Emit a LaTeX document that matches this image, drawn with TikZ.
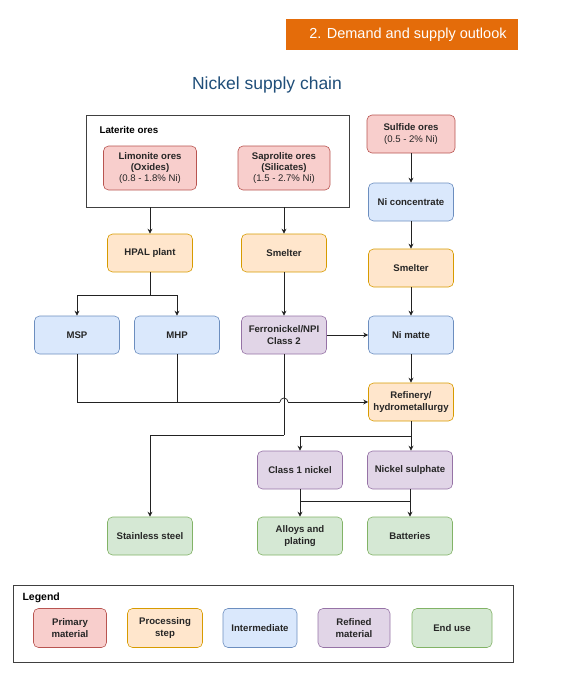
\documentclass[tikz,border=0pt]{standalone}
\usepackage{fontspec}
\setmainfont{Liberation Sans}
\usetikzlibrary{arrows.meta}
\definecolor{redF}{HTML}{F8CECC}\definecolor{redD}{HTML}{B85450}
\definecolor{orF}{HTML}{FFE6CC}\definecolor{orD}{HTML}{D79B00}
\definecolor{blF}{HTML}{DAE8FC}\definecolor{blD}{HTML}{6C8EBF}
\definecolor{puF}{HTML}{E1D5E7}\definecolor{puD}{HTML}{9673A6}
\definecolor{grF}{HTML}{D5E8D4}\definecolor{grD}{HTML}{82B366}
\definecolor{banner}{HTML}{E46C0A}
\definecolor{titleblue}{HTML}{1F4E79}
\definecolor{ln}{HTML}{222222}
\begin{document}
\begin{tikzpicture}[x=1pt,y=-1pt,
  box/.style={draw, rounded corners=5pt, minimum width=85pt, minimum height=38pt, align=center,
    font=\bfseries\fontsize{9.6}{11.2}\selectfont, line width=0.6pt, inner sep=1pt, text=black!85},
  prim/.style={box, fill=redF, draw=redD},
  proc/.style={box, fill=orF, draw=orD},
  inter/.style={box, fill=blF, draw=blD},
  refd/.style={box, fill=puF, draw=puD},
  enduse/.style={box, fill=grF, draw=grD},
  arr/.style={draw=ln, line width=0.7pt, -{Stealth[length=5pt,width=5pt]}},
  ln/.style={draw=ln, line width=0.7pt},
  frame/.style={draw=black!75, line width=0.7pt}
]
\useasboundingbox (0,0) rectangle (568,677);
% banner and title
\fill[banner] (286,19) rectangle (518,50);
\node[text=white, font=\fontsize{14.5}{16}\selectfont] (bt) at (408,35) {2. Demand and supply outlook};
\node[text=titleblue, font=\fontsize{17.5}{20}\selectfont] (title) at (267,85) {Nickel supply chain};
% laterite group
\node[frame, minimum width=263pt, minimum height=92pt, inner sep=0pt] (lat) at (217.5,161) {};
\node[anchor=west, font=\bfseries\fontsize{9.8}{11}\selectfont] (latlab) at (96,130) {Laterite ores};
\node[prim, minimum width=93pt, minimum height=44pt] (lim) at (150,168) {Limonite ores\\(Oxides)\\{\mdseries (0.8 - 1.8\% Ni)}};
\node[prim, minimum width=92pt, minimum height=44pt] (sap) at (284,168) {Saprolite ores\\(Silicates)\\{\mdseries (1.5 - 2.7\% Ni)}};
\node[prim, minimum width=88pt] (sulf) at (411,134) {Sulfide ores\\{\mdseries (0.5 - 2\% Ni)}};
\node[inter] (nicon) at (411,202) {Ni concentrate};
\node[proc] (smelt3) at (411,268) {Smelter};
\node[proc] (hpal) at (150,253) {HPAL plant};
\node[proc] (smelt2) at (284,253) {Smelter};
\node[inter] (msp) at (77,335) {MSP};
\node[inter] (mhp) at (177,335) {MHP};
\node[refd] (ferro) at (284,335) {Ferronickel/NPI\\Class 2};
\node[inter] (nimatte) at (411,335) {Ni matte};
\node[proc] (ref) at (411,402) {Refinery/\\hydrometallurgy};
\node[refd] (c1) at (300,470) {Class 1 nickel};
\node[refd] (nisul) at (410,470) {Nickel sulphate};
\node[enduse] (ss) at (150,536) {Stainless steel};
\node[enduse] (alloy) at (300,536) {Alloys and\\plating};
\node[enduse] (batt) at (410,536) {Batteries};
% connectors
\draw[arr] (lim |- lat.south) -- (hpal.north);
\draw[arr] (sap |- lat.south) -- (smelt2.north);
\draw[arr] (sulf) -- (nicon);
\draw[arr] (nicon) -- (smelt3);
\draw[arr] (smelt3) -- (nimatte);
\draw[arr] (nimatte) -- (ref);
\draw[arr] (smelt2) -- (ferro);
\draw[arr] (ferro) -- (nimatte);
\coordinate (hs) at (150,295);
\draw[ln] (hpal.south) -- (hs);
\draw[arr] (hs) -| (msp.north);
\draw[arr] (hs) -| (mhp.north);
\coordinate (j1) at (280,402);
\coordinate (j2) at (288,402);
\draw[ln] (msp.south) |- (j1);
\draw[ln] (mhp.south) -- (mhp.south |- j1);
\draw[ln] (j1) arc[start angle=180, end angle=0, radius=4pt];
\draw[arr] (j2) -- (ref.west);
\coordinate (fs) at (284,435);
\draw[ln] (ferro.south) -- (fs);
\draw[arr] (fs) -| (ss.north);
\coordinate (rs) at (411,436);
\draw[ln] (ref.south) -- (rs);
\draw[arr] (rs) -| (c1.north);
\draw[arr] (rs) -- (nisul.north -| rs);
\coordinate (cs) at (300,501);
\draw[arr] (c1) -- (alloy);
\draw[ln] (cs) -- (batt |- cs);
\draw[arr] (nisul) -- (batt);
% legend
\node[frame, minimum width=500pt, minimum height=77pt, inner sep=0pt] (leg) at (263,623.5) {};
\node[anchor=west, font=\bfseries\fontsize{10.5}{12}\selectfont] (legt) at (19,598) {Legend};
\node[prim, minimum width=73pt, minimum height=39pt] (l1) at (70,628) {Primary\\material};
\node[proc, minimum width=75pt, minimum height=39pt] (l2) at (165,628) {Processing\\step};
\node[inter, minimum width=74pt, minimum height=39pt] (l3) at (260,628) {Intermediate};
\node[refd, minimum width=72pt, minimum height=39pt] (l4) at (354,628) {Refined\\material};
\node[enduse, minimum width=80pt, minimum height=39pt] (l5) at (452,628) {End use};
\end{tikzpicture}
\end{document}
